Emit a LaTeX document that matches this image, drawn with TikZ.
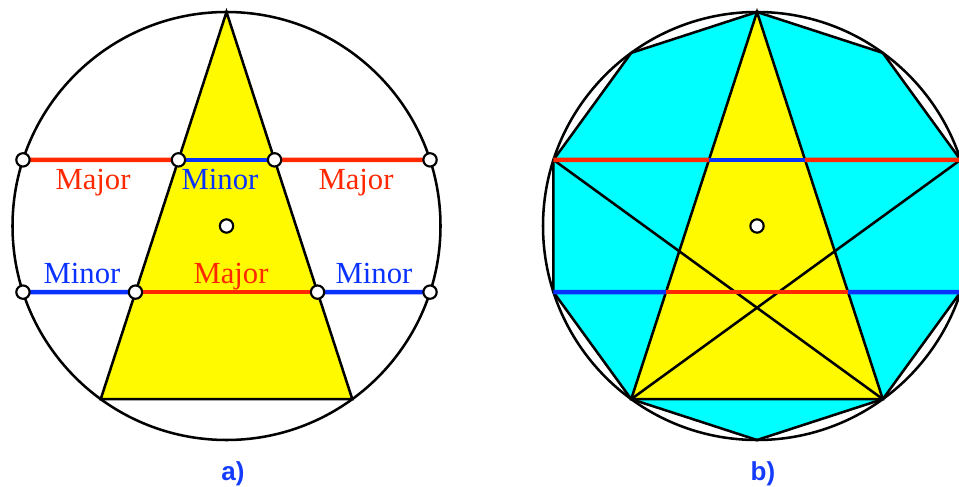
\documentclass[tikz,border=0pt]{standalone}
\usepackage{fontspec}
\setmainfont{Liberation Serif}
\newfontfamily\lblfont{Liberation Sans}
\definecolor{majred}{RGB}{255,40,0}
\definecolor{minblue}{RGB}{10,50,255}
\definecolor{labblue}{RGB}{20,60,255}
\definecolor{tryellow}{RGB}{255,250,0}
\definecolor{deccyan}{RGB}{0,255,255}
\begin{document}
\begin{tikzpicture}[x=0.75pt,y=0.75pt,
  outline/.style={line width=1.9pt, draw=black},
  majline/.style={line width=3.5pt, draw=majred},
  minline/.style={line width=3.5pt, draw=minblue},
  dot/.style={circle, draw=black, fill=white, line width=1.6pt, minimum size=10pt, inner sep=0pt},
  majtext/.style={text=majred, font=\fontsize{23}{23}\selectfont, anchor=base, inner sep=0pt},
  mintext/.style={text=minblue, font=\fontsize{23}{23}\selectfont, anchor=base, inner sep=0pt},
  figlabel/.style={text=labblue, font=\lblfont\bfseries\fontsize{19.5}{19.5}\selectfont, anchor=base, inner sep=0pt}]
\useasboundingbox (0,0) rectangle (959,486);
\clip (0,0) rectangle (959,486);
% ---------- figure a ----------
\coordinate (ca) at (226.5,260);
\foreach \k in {0,...,9} {\path (ca) ++({90+36*\k}:214) coordinate (a\k);}
\coordinate (aTL) at (intersection of a0--a4 and a2--a8);
\coordinate (aTR) at (intersection of a0--a6 and a2--a8);
\coordinate (aBL) at (intersection of a0--a4 and a3--a7);
\coordinate (aBR) at (intersection of a0--a6 and a3--a7);
\draw[outline] (ca) circle[radius=160.5pt];
\filldraw[outline, fill=tryellow] (a0) -- (a4) -- (a6) -- cycle;
\draw[majline] (a2) -- (aTL);
\draw[minline] (aTL) -- (aTR);
\draw[majline] (aTR) -- (a8);
\draw[minline] (a3) -- (aBL);
\draw[majline] (aBL) -- (aBR);
\draw[minline] (aBR) -- (a7);
\node[dot] (da2) at (a2) {};
\node[dot] (daTL) at (aTL) {};
\node[dot] (daTR) at (aTR) {};
\node[dot] (da8) at (a8) {};
\node[dot] (da3) at (a3) {};
\node[dot] (daBL) at (aBL) {};
\node[dot] (daBR) at (aBR) {};
\node[dot] (da7) at (a7) {};
\node[dot] (dca) at (ca) {};
\node[majtext] (l1) at (93,296) {Major};
\node[mintext] (l2) at (220,296) {Minor};
\node[majtext] (l3) at (356,296) {Major};
\node[mintext] (l4) at (82,203) {Minor};
\node[majtext] (l5) at (231,203) {Major};
\node[mintext] (l6) at (374,203) {Minor};
\node[figlabel] (la) at (233,6) {a)};
% ---------- figure b ----------
\coordinate (cb) at (757,260);
\foreach \k in {0,...,9} {\path (cb) ++({90+36*\k}:214) coordinate (b\k);}
\coordinate (bTL) at (intersection of b0--b4 and b2--b8);
\coordinate (bTR) at (intersection of b0--b6 and b2--b8);
\coordinate (bBL) at (intersection of b0--b4 and b3--b7);
\coordinate (bBR) at (intersection of b0--b6 and b3--b7);
\filldraw[outline, fill=deccyan] (b0) -- (b1) -- (b2) -- (b3) -- (b4) -- (b5) -- (b6) -- (b7) -- (b8) -- (b9) -- cycle;
\filldraw[outline, fill=tryellow] (b0) -- (b4) -- (b6) -- cycle;
\draw[outline] (b4) -- (b8);
\draw[outline] (b6) -- (b2);
\draw[outline] (cb) circle[radius=160.5pt];
\draw[majline] (b2) -- (bTL);
\draw[minline] (bTL) -- (bTR);
\draw[majline] (bTR) -- (b8);
\draw[minline] (b3) -- (bBL);
\draw[majline] (bBL) -- (bBR);
\draw[minline] (bBR) -- (b7);
\node[dot] (dcb) at (cb) {};
\node[figlabel] (lb) at (763,6) {b)};
\end{tikzpicture}
\end{document}
